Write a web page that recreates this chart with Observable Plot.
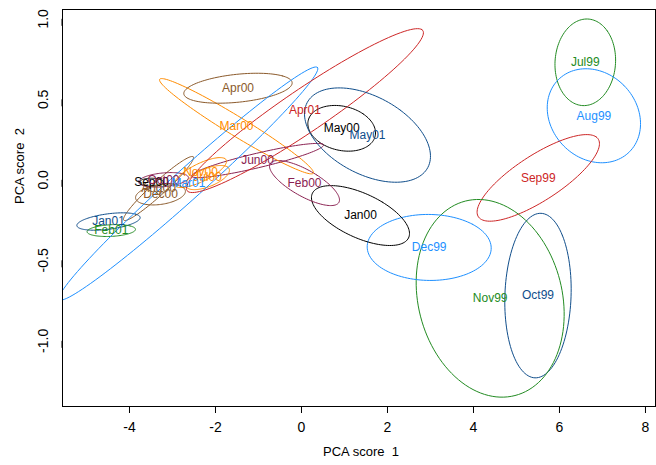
<!DOCTYPE html>
<html>
<head>
<meta charset="utf-8">
<script src="https://cdn.jsdelivr.net/npm/d3@7"></script>
<script src="https://cdn.jsdelivr.net/npm/@observablehq/plot@0.6"></script>
<style>
  body { margin: 0; background: #fff; }
  svg text { white-space: pre; }
</style>
</head>
<body>
<div id="chart"></div>
<script>
// Month labels (ellipse centres = label positions)
const months = ["Jul99","Aug99","Sep99","Oct99","Nov99","Dec99",
  "Jan00","Feb00","Mar00","Apr00","May00","Jun00","Jul00","Aug00","Sep00","Oct00","Nov00","Dec00",
  "Jan01","Feb01","Mar01","Apr01","May01"];
const monthColors = ["#228B22","#1E90FF","#CD2626","#104E8B","#228B22","#1E90FF",
  "#000000","#8B2252","#FF8C00","#8B5A2B","#000000","#8B2252","#FF8C00","#8B5A2B","#000000","#8B2252","#FF8C00","#8B5A2B",
  "#104E8B","#228B22","#1E90FF","#CD2626","#104E8B"];
// centre of each month's scores (PCA score 1, PCA score 2)
const centerX = [6.60, 6.80, 5.507, 5.50, 4.388, 2.97,
  1.372, 0.07, -1.512, -1.477, 0.935, -1.023, -2.186, -3.326, -3.488, -3.209, -2.349, -3.279,
  -4.488, -4.423, -2.63, 0.08, 1.535];
const centerY = [0.73, 0.398, 0.012, -0.719, -0.736, -0.420,
  -0.222, -0.02, 0.333, 0.569, 0.32, 0.12, 0.014, -0.054, -0.015, 0.0, 0.045, -0.091,
  -0.259, -0.315, -0.023, 0.43, 0.278];
// ellipse half-extent along score 1, along score 2, and correlation
const spreadX = [0.705, 1.085, 1.423, 0.772, 1.721, 1.442,
  1.14, 0.814, 1.79, 1.26, 0.787, 1.535, 0.51, 0.814, 0.28, 0.58, 0.605, 0.58,
  0.736, 0.563, 3.01, 2.756, 1.465];
const spreadY = [0.269, 0.292, 0.269, 0.511, 0.614, 0.205,
  0.186, 0.14, 0.296, 0.093, 0.142, 0.106, 0.075, 0.199, 0.025, 0.045, 0.093, 0.065,
  0.054, 0.037, 0.724, 0.509, 0.293];
const corr = [0.05, -0.17, 0.79, 0.075, -0.16, -0.02,
  -0.6, -0.75, -0.972, 0.35, -0.2, 0.9, 0.6, 0.96, 0.0, 0.3, 0.75, 0.3,
  0.45, 0.2, 0.985, 0.95, -0.45];
const xTicks = [-4, -2, 0, 2, 4, 6, 8];
const yTicks = [-1.0, -0.5, 0.0, 0.5, 1.0];

// outline of each ellipse (centre + spread + correlation)
const ellipses = months.flatMap((m, i) => {
  const d = Math.acos(corr[i]);
  return d3.range(0, 121).map(k => {
    const t = 2 * Math.PI * k / 120;
    return {month: m, color: monthColors[i],
      x: centerX[i] + spreadX[i] * Math.cos(t + d / 2),
      y: centerY[i] + spreadY[i] * Math.cos(t - d / 2)};
  });
});
const labels = months.map((m, i) => ({month: m, color: monthColors[i], x: centerX[i], y: centerY[i]}));

const chart = Plot.plot({
  width: 656, height: 465,
  marginLeft: 62, marginRight: 1, marginTop: 9, marginBottom: 59,
  x: {domain: [-5.558, 8.233]},
  y: {domain: [-1.408, 1.058]},
  color: {type: "identity"},
  style: {fontFamily: "'Liberation Sans', Arial, Helvetica, sans-serif", background: "#fff", color: "#000"},
  marks: [
    Plot.line(ellipses, {x: "x", y: "y", z: "month", stroke: "color", strokeWidth: 1, clip: true}),
    Plot.text(labels, {x: "x", y: "y", text: "month", fill: "color", fontSize: 12}),
    Plot.frame({stroke: "#000", strokeWidth: 1}),
    Plot.axisX({ticks: xTicks, tickSize: 7, tickPadding: 9, fontSize: 14, label: null, tickFormat: d => String(d)}),
    Plot.axisY({ticks: yTicks, tickSize: 7, tickPadding: 12, fontSize: 14, label: null,
      tickFormat: d => d.toFixed(1), rotate: -90, textAnchor: "middle"}),
    Plot.text(["PCA score  1"], {text: d => d, frameAnchor: "bottom", dx: 2, dy: 49, fontSize: 13, fill: "#000"}),
    Plot.text(["PCA score  2"], {text: d => d, frameAnchor: "left", dx: -43, dy: -4, rotate: -90, fontSize: 13, fill: "#000"})
  ]
});
document.getElementById("chart").appendChild(chart);
</script>
</body>
</html>
